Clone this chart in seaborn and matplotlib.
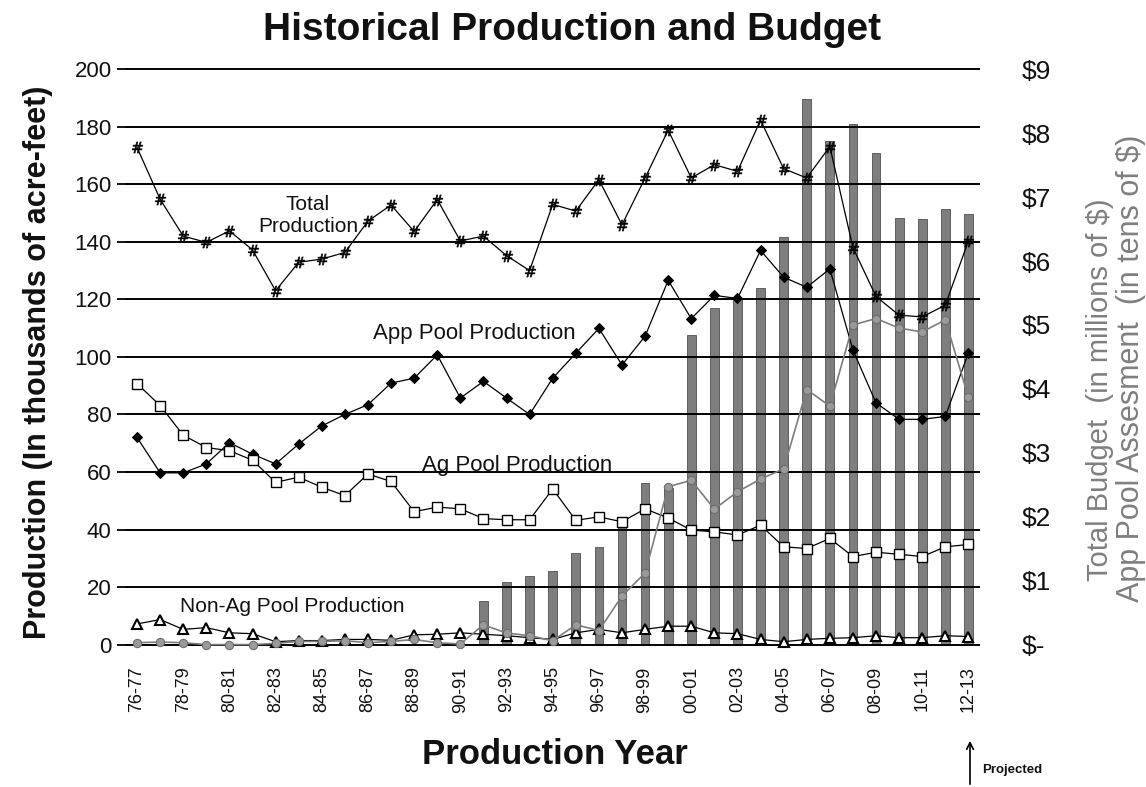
import matplotlib
matplotlib.use("Agg")
import numpy as np
import pandas as pd
import seaborn as sns
import matplotlib.pyplot as plt

# ---------------- data ----------------
years = ["76-77", "77-78", "78-79", "79-80", "80-81", "81-82", "82-83", "83-84",
         "84-85", "85-86", "86-87", "87-88", "88-89", "89-90", "90-91", "91-92",
         "92-93", "93-94", "94-95", "95-96", "96-97", "97-98", "98-99", "99-00",
         "00-01", "01-02", "02-03", "03-04", "04-05", "05-06", "06-07", "07-08",
         "08-09", "09-10", "10-11", "11-12", "12-13"]

total_prod = [172.8, 154.8, 142.0, 139.8, 143.8, 137.2, 123.0, 132.9, 134.0, 136.3,
              147.2, 152.8, 143.6, 154.7, 140.3, 142.0, 135.2, 130.0, 153.0, 150.7,
              161.6, 145.9, 162.2, 178.8, 162.2, 166.8, 164.5, 182.3, 165.4, 162.2,
              173.1, 138.0, 121.0, 114.5, 113.9, 118.0, 140.3]

app_prod = [72.0, 59.7, 59.7, 62.8, 70.2, 66.2, 62.8, 69.7, 76.0, 80.0,
            83.4, 90.9, 92.6, 100.7, 85.7, 91.5, 85.7, 80.0, 92.6, 101.3,
            109.9, 97.2, 107.2, 126.6, 113.3, 121.4, 120.3, 137.0, 127.7, 124.2,
            130.6, 102.4, 84.0, 78.3, 78.3, 79.3, 101.4]

ag_prod = [90.7, 83.1, 72.8, 68.5, 67.4, 64.1, 56.4, 58.2, 54.7, 51.8,
           59.3, 56.7, 46.2, 47.8, 47.2, 43.8, 43.4, 43.4, 54.1, 43.2,
           44.4, 42.7, 47.2, 44.0, 39.8, 39.2, 38.1, 41.5, 34.0, 33.4,
           36.9, 30.6, 32.1, 31.4, 30.6, 34.0, 34.8]

nonag_prod = [7.2, 8.7, 5.3, 5.9, 4.1, 3.8, 1.0, 1.4, 1.4, 1.8,
              1.8, 1.5, 3.4, 3.6, 4.1, 3.6, 3.1, 2.4, 1.8, 4.1,
              5.3, 4.1, 5.3, 6.4, 6.4, 4.1, 3.8, 1.8, 1.0, 1.8,
              2.2, 2.4, 3.1, 2.4, 2.4, 3.1, 2.8]

# App Pool Assessment (tens of $) -> right axis
app_assess = [0.03, 0.04, 0.03, 0.0, 0.0, 0.0, 0.02, 0.05, 0.05, 0.06,
              0.03, 0.05, 0.08, 0.03, 0.01, 0.31, 0.18, 0.14, 0.06, 0.31,
              0.22, 0.76, 1.12, 2.47, 2.57, 2.12, 2.39, 2.59, 2.75, 3.99,
              3.73, 5.00, 5.10, 4.95, 4.89, 5.08, 3.87]

# Total budget (millions of $) -> right axis
budget = [np.nan] * 15 + [0.68, 0.98, 1.08, 1.15, 1.43, 1.53, 1.98, 2.52, 2.45,
                          4.84, 5.26, 5.40, 5.57, 6.37, 8.54, 7.87, 8.15, 7.69,
                          6.68, 6.66, 6.81, 6.74]

left_ticks = [0, 20, 40, 60, 80, 100, 120, 140, 160, 180, 200]
right_ticks = [0, 1, 2, 3, 4, 5, 6, 7, 8, 9]
right_labels = ["$-", "$1", "$2", "$3", "$4", "$5", "$6", "$7", "$8", "$9"]

df = pd.DataFrame({"year": years, "pos": np.arange(len(years)),
                   "total": total_prod, "app": app_prod, "ag": ag_prod,
                   "nonag": nonag_prod, "assess": app_assess, "budget": budget})

# ---------------- figure ----------------
sns.set_theme(style="white")
plt.rcParams["font.family"] = ["Liberation Sans", "DejaVu Sans"]

fig = plt.figure(figsize=(11.46, 7.87), dpi=100)
rect = [0.1095, 0.178, 0.7456, 0.737]
ax1 = fig.add_axes(rect)
ax2 = ax1.twinx()
ax3 = ax1.twinx()
ax2.set_zorder(1)
ax1.set_zorder(2)
ax3.set_zorder(3)
ax1.patch.set_visible(False)
ax3.patch.set_visible(False)

# bars (Total Budget)
sns.barplot(data=df, x="year", y="budget", ax=ax2, color="#7e7e7e",
            width=0.38, errorbar=None, edgecolor="#505050", linewidth=0.6,
            saturation=1)

lw = 0.9
sns.lineplot(data=df, x="pos", y="total", ax=ax1, color="black", lw=lw,
             marker=r"$\#$", markersize=8, markeredgewidth=0.4,
             markerfacecolor="black", markeredgecolor="black",
             sort=False, estimator=None, clip_on=False)
sns.lineplot(data=df, x="pos", y="app", ax=ax1, color="black", lw=lw,
             marker="D", markersize=5, markerfacecolor="black",
             markeredgecolor="black", sort=False, estimator=None, clip_on=False)
sns.lineplot(data=df, x="pos", y="ag", ax=ax1, color="black", lw=lw,
             marker="s", markersize=7.5, markerfacecolor="white",
             markeredgecolor="black", markeredgewidth=1.0,
             sort=False, estimator=None, clip_on=False)
sns.lineplot(data=df, x="pos", y="nonag", ax=ax1, color="black", lw=lw,
             marker="^", markersize=7.5, markerfacecolor="white",
             markeredgecolor="black", markeredgewidth=1.5,
             sort=False, estimator=None, clip_on=False)
sns.lineplot(data=df, x="pos", y="assess", ax=ax3, color="#7d7d7d", lw=1.2,
             marker="o", markersize=6, markerfacecolor="#9a9a9a",
             markeredgecolor="#6a6a6a", sort=False, estimator=None,
             clip_on=False)

# axes setup
for ax in (ax1, ax2, ax3):
    ax.set_xlim(-0.5, len(years) - 0.5)
    for s in ax.spines.values():
        s.set_visible(False)
    ax.set_xlabel("")
    ax.set_ylabel("")

pad_frac = 0.004
ax1.set_ylim(-200 * pad_frac, 200 * (1 + pad_frac))
ax2.set_ylim(-9 * pad_frac, 9 * (1 + pad_frac))
ax3.set_ylim(-9 * pad_frac, 9 * (1 + pad_frac))
ax3.set_axis_off()

ax1.set_yticks(left_ticks)
ax1.set_yticklabels([str(t) for t in left_ticks])
ax1.grid(axis="y", color="black", lw=1.4)
ax1.grid(axis="x", visible=False)
ax1.tick_params(axis="y", length=6, width=1.3, color="black", direction="out",
                pad=4, labelsize=16, labelcolor="#111111", left=True)

ax1.set_xticks(df["pos"][::2])
ax1.set_xticklabels(df["year"][::2], rotation=90)
ax1.tick_params(axis="x", length=0, pad=14, labelsize=13, labelcolor="#111111")

ax2.set_yticks(right_ticks)
ax2.set_yticklabels(right_labels)
ax2.tick_params(axis="y", length=0, pad=30, labelsize=19, labelcolor="#111111")
ax2.grid(False)

# series annotations
ax1.text(7.4, 149, "Total\nProduction", ha="center", va="center",
         fontsize=15, multialignment="center", color="#111111")
ax1.text(14.6, 108.3, "App Pool Production", ha="center", va="center",
         fontsize=16, color="#111111")
ax1.text(16.45, 62.1, "Ag Pool Production", ha="center", va="center",
         fontsize=16, color="#111111")
ax1.text(6.73, 13.4, "Non-Ag Pool Production", ha="center", va="center",
         fontsize=15, color="#111111")

# titles and axis labels
fig.text(572 / 1146, 1 - 30 / 787, "Historical Production and Budget",
         ha="center", va="center", fontsize=28, fontweight="bold", color="#111111")
fig.text(555 / 1146, 1 - 755 / 787, "Production Year", ha="center",
         va="center", fontsize=25, fontweight="bold", color="#111111")
fig.text(38 / 1146, 1 - 362 / 787, "Production (In thousands of acre-feet)",
         ha="center", va="center", rotation=90, fontsize=22,
         fontweight="bold", color="#111111")
fig.text(1100 / 1146, 1 - 390 / 787, "Total Budget  (in millions of $)",
         ha="center", va="center", rotation=90, fontsize=21, color="#7f7f7f")
fig.text(1131 / 1146, 1 - 368 / 787, "App Pool Assesment  (in tens of $)",
         ha="center", va="center", rotation=90, fontsize=22, color="#7f7f7f")

# projected marker
fig.text(982 / 1146, 1 - 770 / 787, "Projected", ha="left", va="center",
         fontsize=9.5, fontweight="bold", color="#111111")
ax1.annotate("", xy=(970 / 1146, 1 - 738 / 787), xytext=(970 / 1146, 0.0),
             xycoords="figure fraction", textcoords="figure fraction",
             arrowprops=dict(arrowstyle="->", lw=1.2, color="black"))

fig.savefig("out.png", dpi=100, facecolor="white")
